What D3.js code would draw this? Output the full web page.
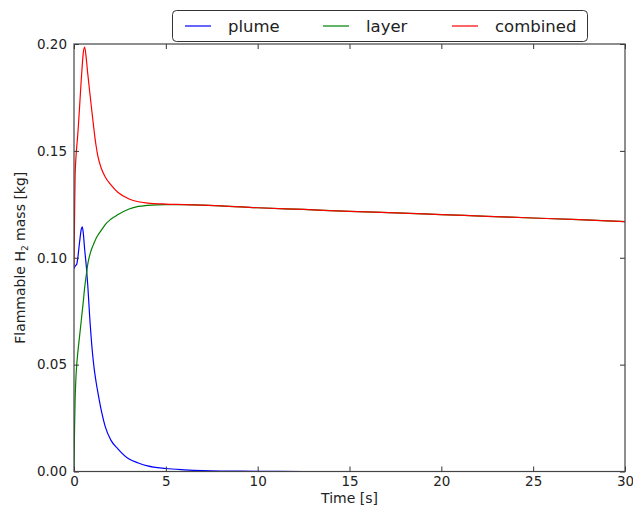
<!DOCTYPE html>
<html>
<head>
<meta charset="utf-8">
<script src="https://cdn.jsdelivr.net/npm/d3@7"></script>
<style>
  body { margin: 0; background: #fff; }
  text { font-family: "DejaVu Sans", sans-serif; fill: #222; }
</style>
</head>
<body>
<div id="chart"></div>
<script>
// time samples [s]
const time = [0, 0.03, 0.06, 0.1, 0.15, 0.2, 0.3, 0.4, 0.45, 0.5, 0.58, 0.67, 0.75, 0.85, 1.0, 1.1, 1.2, 1.3, 1.5, 1.7, 2.0, 2.4, 3.0, 3.5, 4.0, 5.0, 6.0, 7.0, 8.0, 10, 12.5, 15, 17.5, 20, 22.5, 25, 27.5, 30]

const plume = [0.095, 0.0955, 0.096, 0.0965, 0.097, 0.0995, 0.107, 0.1135, 0.1145, 0.112, 0.104, 0.096, 0.087, 0.073, 0.056, 0.048, 0.042, 0.037, 0.028, 0.021, 0.0148, 0.0105, 0.0058, 0.004, 0.0026, 0.0014, 0.0008, 0.0004, 0.0002, 0.0001, 0, 0, 0, 0, 0, 0, 0, 0]

const layer = [0, 0.02, 0.033, 0.043, 0.05, 0.055, 0.063, 0.071, 0.075, 0.079, 0.086, 0.092, 0.097, 0.101, 0.105, 0.107, 0.109, 0.1105, 0.113, 0.1155, 0.118, 0.1202, 0.1228, 0.124, 0.1245, 0.1249, 0.1249, 0.1246, 0.1243, 0.1234, 0.1226, 0.1217, 0.121, 0.1202, 0.1194, 0.1186, 0.1178, 0.1169]

const combined = [0.096, 0.118, 0.138, 0.146, 0.152, 0.157, 0.170, 0.184, 0.19, 0.1955, 0.1985, 0.193, 0.186, 0.178, 0.1665, 0.159, 0.1525, 0.1475, 0.1415, 0.1378, 0.1342, 0.1305, 0.1275, 0.1262, 0.1256, 0.1251, 0.1249, 0.1246, 0.1243, 0.1234, 0.1226, 0.1217, 0.121, 0.1202, 0.1194, 0.1186, 0.1178, 0.1169]

const seriesNames = ['plume', 'layer', 'combined']
const seriesColors = ['#0000ff', '#008000', '#ff0000']
const xTicks = [0, 5, 10, 15, 20, 25, 30]
const yTicks = [0, 0.05, 0.10, 0.15, 0.20]

const width = 633
const height = 515
const margin = { top: 44, right: 8, bottom: 43.5, left: 74 }
const plotW = width - margin.left - margin.right
const plotH = height - margin.top - margin.bottom

const svg = d3.select('#chart').append('svg')
  .attr('width', width)
  .attr('height', height)

const x = d3.scaleLinear().domain([0, 30]).range([0, plotW])
const y = d3.scaleLinear().domain([0, 0.2]).range([plotH, 0])

const g = svg.append('g')
  .attr('transform', `translate(${margin.left},${margin.top})`)

g.append('clipPath').attr('id', 'clip')
  .append('rect').attr('width', plotW).attr('height', plotH)

// lines
const line = d3.line()
  .x(d => x(d[0]))
  .y(d => y(d[1]))
  .curve(d3.curveMonotoneX)

const allSeries = [plume, layer, combined]
allSeries.forEach((vals, i) => {
  g.append('path')
    .attr('clip-path', 'url(#clip)')
    .datum(time.map((t, j) => [t, vals[j]]))
    .attr('fill', 'none')
    .attr('stroke', seriesColors[i])
    .attr('stroke-width', 1.2)
    .attr('d', line)
})

// axes, matplotlib classic style: ticks pointing inward on every side
function styleAxis (sel) {
  sel.select('.domain').remove()
  sel.selectAll('.tick line').attr('stroke', '#333')
  sel.selectAll('.tick text').attr('fill', '#222').style('font-size', '13.5px')
}

g.append('g')
  .attr('transform', `translate(0,${plotH})`)
  .call(d3.axisBottom(x).tickValues(xTicks).tickSize(-5).tickPadding(5).tickFormat(d3.format('d')))
  .call(styleAxis)

g.append('g')
  .call(d3.axisLeft(y).tickValues(yTicks).tickSize(-5).tickPadding(7).tickFormat(d3.format('.2f')))
  .call(styleAxis)

g.append('g')
  .call(d3.axisTop(x).tickValues(xTicks).tickSize(-5).tickFormat(''))
  .call(styleAxis)

g.append('g')
  .attr('transform', `translate(${plotW},0)`)
  .call(d3.axisRight(y).tickValues(yTicks).tickSize(-5).tickFormat(''))
  .call(styleAxis)

// frame
g.append('rect')
  .attr('width', plotW)
  .attr('height', plotH)
  .attr('fill', 'none')
  .attr('stroke', '#444')
  .attr('stroke-width', 1.2)

// axis labels
svg.append('text')
  .attr('x', margin.left + plotW / 2)
  .attr('y', 503)
  .attr('text-anchor', 'middle')
  .style('font-size', '14px')
  .text('Time [s]')

const yLab = svg.append('text')
  .attr('transform', `translate(25,${margin.top + plotH / 2}) rotate(-90)`)
  .attr('text-anchor', 'middle')
  .style('font-size', '14px')
yLab.append('tspan').text('Flammable H')
yLab.append('tspan').attr('dy', 3).style('font-size', '9px').text('2')
yLab.append('tspan').attr('dy', -3).text(' mass [kg]')

// legend above the plot
const legend = svg.append('g')
legend.append('rect')
  .attr('x', 172.5)
  .attr('y', 10.5)
  .attr('width', 415)
  .attr('height', 31)
  .attr('rx', 4)
  .attr('fill', '#fff')
  .attr('stroke', '#333')
  .attr('stroke-width', 1)

const legendX = [185, 323, 452]
seriesNames.forEach((name, i) => {
  const item = legend.append('g').attr('transform', `translate(${legendX[i]},26)`)
  item.append('line')
    .attr('x1', 0).attr('x2', 26)
    .attr('stroke', seriesColors[i])
    .attr('stroke-width', 1.2)
  item.append('text')
    .attr('x', 43)
    .attr('y', 5.5)
    .style('font-size', '16.5px')
    .text(name)
})
</script>
</body>
</html>
